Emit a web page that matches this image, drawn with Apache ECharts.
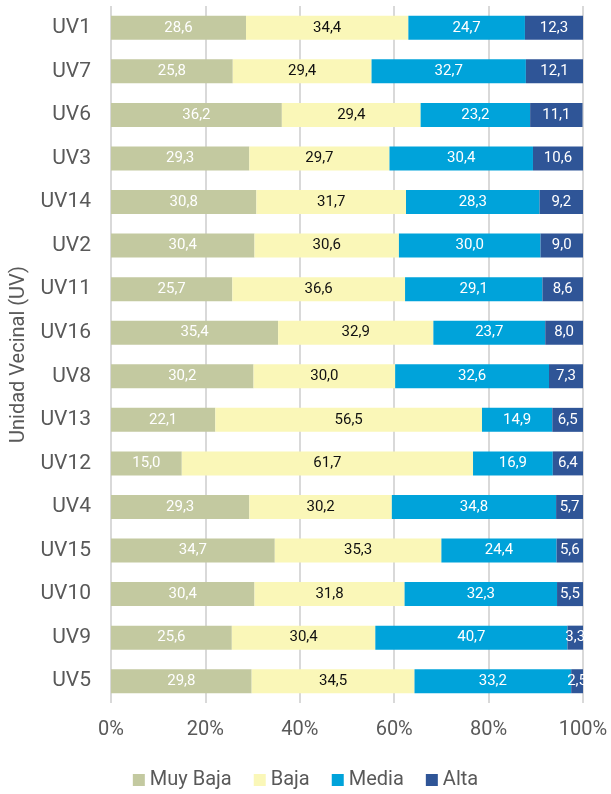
<!DOCTYPE html>
<html>
<head>
<meta charset="utf-8">
<script src="https://cdn.jsdelivr.net/npm/echarts@6/dist/echarts.min.js"></script>
<style>
html, body { margin: 0; padding: 0; background: #fff; }
#main { width: 611px; height: 794px; }
</style>
</head>
<body>
<div id="main"></div>
<script>
// categorias (de arriba a abajo)
var categorias = ['UV1', 'UV7', 'UV6', 'UV3', 'UV14', 'UV2', 'UV11', 'UV16', 'UV8', 'UV13', 'UV12', 'UV4', 'UV15', 'UV10', 'UV9', 'UV5'];
var muyBaja = [28.6, 25.8, 36.2, 29.3, 30.8, 30.4, 25.7, 35.4, 30.2, 22.1, 15.0, 29.3, 34.7, 30.4, 25.6, 29.8];
var baja = [34.4, 29.4, 29.4, 29.7, 31.7, 30.6, 36.6, 32.9, 30.0, 56.5, 61.7, 30.2, 35.3, 31.8, 30.4, 34.5];
var media = [24.7, 32.7, 23.2, 30.4, 28.3, 30.0, 29.1, 23.7, 32.6, 14.9, 16.9, 34.8, 24.4, 32.3, 40.7, 33.2];
var alta = [12.3, 12.1, 11.1, 10.6, 9.2, 9.0, 8.6, 8.0, 7.3, 6.5, 6.4, 5.7, 5.6, 5.5, 3.3, 2.5];

var fuente = 'Roboto, "Noto Sans", sans-serif';
var gris = '#595959';

function serie(nombre, datos, color, colorTexto) {
    return {
        name: nombre,
        type: 'bar',
        stack: 'total',
        barWidth: 24,
        data: datos,
        itemStyle: { color: color },
        label: {
            show: true,
            position: 'inside',
            color: colorTexto,
            fontFamily: fuente,
            fontSize: 15,
            formatter: function (p) {
                return p.value.toFixed(1).replace('.', ',');
            }
        }
    };
}

var myChart = echarts.init(document.getElementById('main'));
var option = {
    animation: false,
    textStyle: { fontFamily: fuente },
    grid: { left: 111, right: 28, top: 6, bottom: 91, outerBoundsMode: 'none', containLabel: false },
    legend: {
        bottom: 0,
        left: 'center',
        padding: [5, 5, 4, 5],
        icon: 'rect',
        itemWidth: 12,
        itemHeight: 12,
        itemGap: 22,
        textStyle: { color: gris, fontSize: 20, fontFamily: fuente },
        data: ['Muy Baja', 'Baja', 'Media', 'Alta']
    },
    xAxis: {
        type: 'value',
        min: 0,
        max: 100,
        interval: 20,
        axisLine: { show: false },
        axisTick: { show: false },
        axisLabel: {
            color: gris,
            fontSize: 20,
            margin: 17,
            formatter: '{value}%'
        },
        splitLine: { lineStyle: { color: '#d9d9d9', width: 2 } }
    },
    yAxis: {
        type: 'category',
        inverse: true,
        data: categorias,
        name: 'Unidad Vecinal (UV)',
        nameLocation: 'middle',
        nameRotate: 90,
        nameGap: 82,
        nameTextStyle: { color: gris, fontSize: 20 },
        axisLine: { show: false },
        axisTick: { show: false },
        axisLabel: { color: gris, fontSize: 21, margin: 20 }
    },
    series: [
        serie('Muy Baja', muyBaja, '#c3c9a0', '#ffffff'),
        serie('Baja', baja, '#faf7b8', '#111111'),
        serie('Media', media, '#00a3da', '#ffffff'),
        serie('Alta', alta, '#2f5597', '#ffffff')
    ]
};
myChart.setOption(option);
</script>
</body>
</html>
